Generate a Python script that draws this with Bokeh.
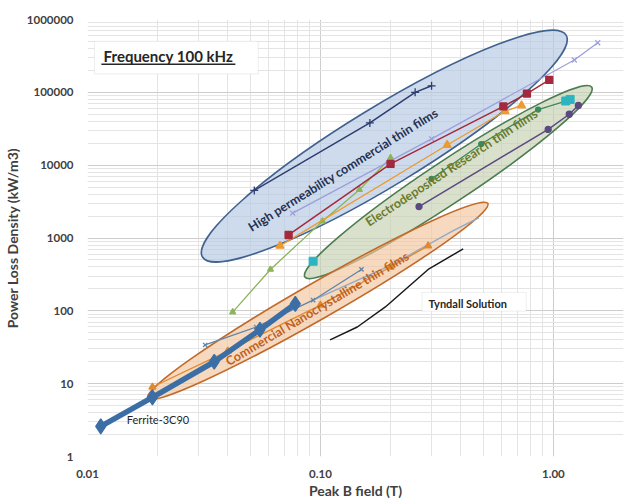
import math
from bokeh.plotting import figure
from bokeh.models import FixedTicker, BoxAnnotation, Label, NumeralTickFormatter
from bokeh.embed import file_html
from bokeh.resources import INLINE

# ---------------- data (Peak B field in T, power loss density in kW/m3) -------------
ferrite_B = [0.0114, 0.019, 0.035, 0.055, 0.078]
ferrite_P = [2.6, 6.5, 20, 55, 125]

nano1_B = [0.032, 0.053, 0.093, 0.15]
nano1_P = [34, 60, 140, 370]

nano2_B = [0.093, 0.2, 0.37, 0.48]
nano2_P = [140, 420, 1250, 1900]

nano_orange_B = [0.019, 0.04, 0.1, 0.2, 0.29]
nano_orange_P = [9, 28, 120, 400, 780]

tyndall_B = [0.11, 0.144, 0.19, 0.29, 0.41]
tyndall_P = [40, 60, 113, 370, 710]

green_B = [0.042, 0.061, 0.102, 0.147, 0.2]
green_P = [96, 370, 1700, 4600, 12600]

darkred_B = [0.073, 0.2, 0.61, 0.77, 0.96]
darkred_P = [1100, 10400, 64000, 96000, 148000]

orange_B = [0.067, 0.35, 0.62, 0.73]
orange_P = [780, 18900, 55000, 66000]

lavender_B = [0.076, 0.3, 1.23, 1.55]
lavender_P = [2200, 23000, 278000, 480000]

navy_B = [0.052, 0.163, 0.255, 0.30]
navy_P = [4500, 38000, 100000, 123000]

purple_B = [0.265, 0.95, 1.17, 1.28]
purple_P = [2700, 31000, 50000, 66000]

dkgreen_B = [0.3, 0.49, 0.86, 1.13]
dkgreen_P = [6500, 19500, 58000, 76000]

teal_B = [0.093, 1.13, 1.18]
teal_P = [480, 76000, 80000]

# grouping ellipses: centre (B, P), size in pixels, angle in degrees
ell_B = [0.188, 0.354, 0.0974]
ell_P = [18300, 5850, 137]
ell_w = [426, 344, 392]
ell_h = [78, 42, 36]
ell_angle = [31.4, 33.5, 29.8]
ell_fill = ["#b3c8e3", "#c4d0af", "#f3c49c"]
ell_line = ["#41628f", "#4c7c50", "#c26a2a"]

y_ticks = [1, 10, 100, 1000, 10000, 100000, 1000000]
x_ticks = [0.01, 0.1, 1]

X0, X1 = 0.01, 2.0
Y0, Y1 = 1, 1e6

FONT = "Lato"

p = figure(width=640, height=501, x_axis_type="log", y_axis_type="log",
           x_range=(X0, X1), y_range=(Y0, Y1),
           output_backend="svg", toolbar_location=None,
           min_border_left=83, min_border_right=17, min_border_top=19, min_border_bottom=40)

# reference-frame pixel -> data helpers for annotation placement
FL, FR, FT, FB = 83, 623, 19, 461
def rx(px):
    return 10 ** (math.log10(X0) + (px - FL) / (FR - FL) * (math.log10(X1) - math.log10(X0)))
def ry(py):
    return 10 ** (math.log10(Y1) - (py - FT) / (FB - FT) * (math.log10(Y1) - math.log10(Y0)))

xminor = [k * 10 ** d for d in (-2, -1, 0) for k in range(2, 10) if k * 10 ** d <= X1]
yminor = [k * 10 ** d for d in range(0, 6) for k in range(2, 10)]
xt = FixedTicker(ticks=x_ticks, minor_ticks=xminor)
yt = FixedTicker(ticks=y_ticks, minor_ticks=yminor)
p.xaxis.ticker = xt
p.yaxis.ticker = yt
p.xgrid.ticker = xt
p.ygrid.ticker = yt
p.xaxis.formatter = NumeralTickFormatter(format="0.00")
p.yaxis.formatter = NumeralTickFormatter(format="0")

for g in (p.xgrid, p.ygrid):
    g.grid_line_color = "#cdcdcd"
    g.minor_grid_line_color = "#e4e4e4"
    g.grid_line_width = 1

p.outline_line_color = None
for ax in (p.xaxis, p.yaxis):
    ax.axis_line_color = None
    ax.major_tick_line_color = None
    ax.minor_tick_line_color = None
    ax.major_tick_out = 0
    ax.major_tick_in = 0
    ax.major_label_text_font = FONT
    ax.major_label_text_font_style = "bold"
    ax.major_label_text_font_size = "11.5px"
    ax.major_label_text_color = "#404040"
    ax.axis_label_text_font = FONT
    ax.axis_label_text_font_style = "bold"
    ax.axis_label_text_color = "#404040"

p.xaxis.axis_label = "Peak B field (T)"
p.yaxis.axis_label = "Power Loss Density (kW/m3)"
p.xaxis.axis_label_text_font_size = "14px"
p.yaxis.axis_label_text_font_size = "14px"
p.xaxis.major_label_standoff = 9
p.xaxis.axis_label_standoff = 1
p.yaxis.major_label_standoff = 10
p.yaxis.axis_label_standoff = 3

# ellipses (behind the series)
p.ellipse(x=ell_B, y=ell_P, width=ell_w, height=ell_h,
          angle=[math.radians(a) for a in ell_angle],
          width_units="screen", height_units="screen",
          fill_color=ell_fill, fill_alpha=0.65, line_color=ell_line, line_width=1.6)

def series(B, P, color, width=1.3, marker=None, size=6, fill=True):
    p.line(B, P, line_color=color, line_width=width)
    if marker:
        p.scatter(B, P, marker=marker, size=size, line_color=color,
                  fill_color=color if fill else None, line_width=1.3)

series(nano2_B, nano2_P, "#8fa9c6", 1.3)
series(nano1_B, nano1_P, "#5f84a8", 1.3, "x", 6)
series(nano_orange_B, nano_orange_P, "#e0892e", 1.3, "triangle", 7)
series(ferrite_B, ferrite_P, "#3c6ea6", 5.5, "diamond", 15)
series(tyndall_B, tyndall_P, "#1a1a1a", 1.5)
series(green_B, green_P, "#8cb45a", 1.3, "triangle", 6)
series(orange_B, orange_P, "#ee9a2c", 1.3, "triangle", 8)
series(lavender_B, lavender_P, "#9c9fdc", 1.3, "x", 7)
series(darkred_B, darkred_P, "#a22a3c", 1.5, "square", 7)
series(navy_B, navy_P, "#2d3c6e", 1.5, "cross", 8)
series(purple_B, purple_P, "#5a4a80", 1.5, "circle", 6)
series(dkgreen_B, dkgreen_P, "#3c8a5c", 1.3, "circle", 5)
p.scatter(teal_B, teal_P, marker="square", size=8, line_color="#2cb5c0", fill_color="#2cb5c0")

# rotated group labels
def rot_label(px, py, text, angle, color, size):
    p.add_layout(Label(x=rx(px), y=ry(py), text=text, angle=math.radians(angle),
                       text_align="center", text_baseline="middle",
                       text_font=FONT, text_font_style="bold",
                       text_font_size=size, text_color=color))

rot_label(340.5, 171, "High permeability commercial thin films", 31.9, "#1f3050", "12.5px")
rot_label(451, 168, "Electrodeposited  Research thin films", 33.2, "#6a7a2a", "12.5px")
rot_label(314.5, 311.5, "Commercial Nanocrystalline thin films", 30.7, "#c0601a", "12.5px")

p.add_layout(Label(x=rx(154), y=ry(424), text="Ferrite-3C90", text_align="center",
                   text_baseline="middle", text_font=FONT, text_font_size="11px",
                   text_color="#262626"))

# Tyndall Solution box
p.add_layout(BoxAnnotation(left=rx(420), right=rx(525), top=ry(295), bottom=ry(314),
                           fill_color="white", fill_alpha=1, line_color="#c8c8c8", line_width=1))
p.add_layout(Label(x=rx(466), y=ry(306), text="Tyndall Solution", text_align="center",
                   text_baseline="middle", text_font=FONT, text_font_style="bold",
                   text_font_size="11px", text_color="#262626"))

# Frequency box
p.add_layout(BoxAnnotation(left=rx(90), right=rx(255), top=ry(41), bottom=ry(74),
                           fill_color="white", fill_alpha=1, line_color="#c8c8c8", line_width=1))
p.add_layout(Label(x=rx(164.5), y=ry(56), text="Frequency 100 kHz", text_align="center",
                   text_baseline="middle", text_font=FONT, text_font_style="bold",
                   text_font_size="15px", text_color="#262626"))
p.add_layout(BoxAnnotation(left=rx(97), right=rx(232), top=ry(63.5), bottom=ry(65),
                           fill_color="#262626", fill_alpha=1, line_color=None))

# chart-area border (top and left edges visible)
p.add_layout(BoxAnnotation(left=rx(15), right=rx(700), top=ry(9), bottom=ry(600),
                           fill_alpha=0, line_color="#a6a6a6", line_width=1))

open("out.html", "w").write(file_html(p, INLINE))
